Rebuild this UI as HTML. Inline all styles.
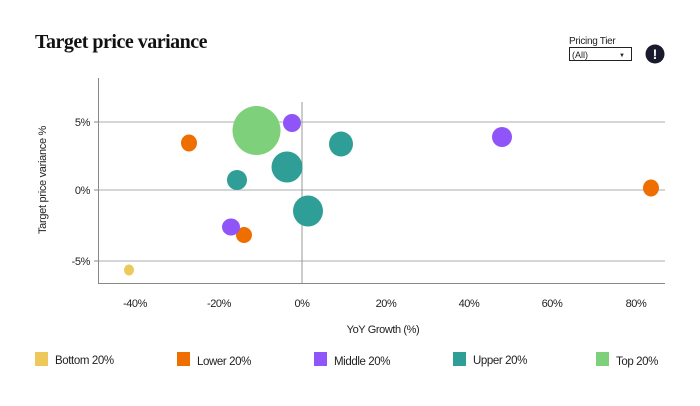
<!DOCTYPE html>
<html><head><style>
body{margin:0;width:700px;height:401px;background:#fff;overflow:hidden;font-family:"Liberation Sans",sans-serif}
</style></head><body>
<svg width="700" height="401" xmlns="http://www.w3.org/2000/svg" font-family="Liberation Sans, sans-serif">
<text x="35" y="48" font-family="Liberation Serif, serif" font-weight="bold" font-size="20" fill="#111" letter-spacing="-0.5">Target price variance</text>
<text x="569" y="44" font-size="10" fill="#222" letter-spacing="-0.3">Pricing Tier</text>
<rect x="569.5" y="47.5" width="62" height="13" fill="#fff" stroke="#222"/>
<text x="572" y="58" font-size="9" fill="#222">(All)</text>
<text x="619" y="57" font-size="6" fill="#222">▼</text>
<circle cx="655" cy="54" r="9.5" fill="#1a1a2e"/>
<text x="655" y="59" font-size="14" font-weight="bold" fill="#fff" text-anchor="middle">!</text>
<g stroke="#bdbdc2" stroke-width="1.3">
<line x1="98" y1="122" x2="665" y2="122"/>
<line x1="98" y1="190" x2="665" y2="190"/>
<line x1="98" y1="261" x2="665" y2="261"/>
</g>
<line x1="302" y1="102" x2="302" y2="283" stroke="#999" stroke-width="1"/>
<line x1="98.5" y1="78" x2="98.5" y2="283" stroke="#888"/>
<line x1="98" y1="283.5" x2="665" y2="283.5" stroke="#888"/>
<g stroke="#888"><line x1="94" y1="122" x2="98" y2="122"/><line x1="94" y1="190" x2="98" y2="190"/><line x1="94" y1="261" x2="98" y2="261"/></g>
<g font-size="11" fill="#222" text-anchor="end" letter-spacing="-0.4">
<text x="90" y="126">5%</text><text x="90" y="194">0%</text><text x="90" y="265">-5%</text>
</g>
<g font-size="11" fill="#222" text-anchor="middle" letter-spacing="-0.4">
<text x="135" y="307">-40%</text><text x="219" y="307">-20%</text><text x="302" y="307">0%</text><text x="386" y="307">20%</text><text x="469" y="307">40%</text><text x="552" y="307">60%</text><text x="636" y="307">80%</text>
<text x="383" y="333">YoY Growth (%)</text>
</g>
<text transform="translate(46,180) rotate(-90)" font-size="11" fill="#222" text-anchor="middle" letter-spacing="-0.3">Target price variance %</text>
<ellipse cx="129" cy="270" rx="5" ry="5.5" fill="#ecc95a"/>
<ellipse cx="189" cy="143" rx="8" ry="8.5" fill="#ee6f00"/>
<ellipse cx="651" cy="188" rx="8" ry="8.5" fill="#ee6f00"/>
<ellipse cx="244" cy="235" rx="8" ry="8" fill="#ee6f00"/>
<ellipse cx="292" cy="123" rx="9" ry="9" fill="#9055f8"/>
<ellipse cx="502" cy="137" rx="10" ry="10" fill="#9055f8"/>
<ellipse cx="231" cy="227" rx="9" ry="8.5" fill="#9055f8"/>
<ellipse cx="237" cy="180" rx="10" ry="10" fill="#2e9e96"/>
<ellipse cx="287" cy="167" rx="15.5" ry="15.5" fill="#2e9e96"/>
<ellipse cx="341" cy="144" rx="12" ry="12.5" fill="#2e9e96"/>
<ellipse cx="308" cy="211" rx="15" ry="15.5" fill="#2e9e96"/>
<ellipse cx="256.5" cy="130.5" rx="24" ry="24.5" fill="#7ed07a"/>
<g font-size="11.5" fill="#222" letter-spacing="-0.4">
<rect x="35" y="352" width="13" height="14" fill="#ecc95a"/><text x="55" y="364">Bottom 20%</text>
<rect x="177" y="352" width="13" height="14" fill="#ee6f00"/><text x="197" y="365">Lower 20%</text>
<rect x="314" y="352" width="13" height="14" fill="#9055f8"/><text x="334" y="365">Middle 20%</text>
<rect x="453" y="352" width="13" height="14" fill="#2e9e96"/><text x="473" y="364">Upper 20%</text>
<rect x="596" y="352" width="13" height="14" fill="#7ed07a"/><text x="616" y="365">Top 20%</text>
</g>
</svg>
</body></html>
